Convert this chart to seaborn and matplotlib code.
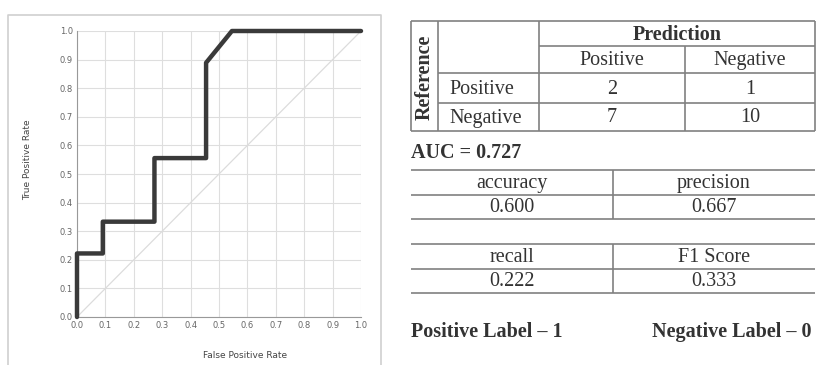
import matplotlib
matplotlib.use("Agg")
import matplotlib.pyplot as plt
import seaborn as sns
import pandas as pd

# ROC curve points
fpr = [0.0, 0.0, 0.0909, 0.0909, 0.2727, 0.2727, 0.4545, 0.4545, 0.5455, 1.0]
tpr = [0.0, 0.2222, 0.2222, 0.3333, 0.3333, 0.5556, 0.5556, 0.8889, 1.0, 1.0]
auc = 0.727

# confusion matrix (rows = reference, cols = prediction)
classes = ["Positive", "Negative"]
conf = [[2, 1], [7, 10]]

metric_names = ["accuracy", "precision", "recall", "F1 Score"]
metric_vals = [0.600, 0.667, 0.222, 0.333]

sns.set_style("whitegrid")
W, H = 816, 365
fig = plt.figure(figsize=(W / 100, H / 100), dpi=100)

# overlay in pixel coords for the frame and tables
ov = fig.add_axes([0, 0, 1, 1])
ov.set_xlim(0, W)
ov.set_ylim(H, 0)
ov.axis("off")

# left panel frame
ov.plot([8, 8, 381, 381], [368, 15, 15, 368], color="#d0d0d0", lw=1.2)

# ROC axes
ax = fig.add_axes([77 / W, 1 - 317 / H, (361 - 77) / W, (317 - 31) / H])
df = pd.DataFrame({"fpr": fpr, "tpr": tpr})
ax.plot([0, 1], [0, 1], color="#dcdcdc", lw=0.9)
sns.lineplot(data=df, x="fpr", y="tpr", sort=False, estimator=None,
             color="#3a3a3a", lw=3.2, ax=ax, clip_on=False, zorder=5)
ax.set_xlim(0, 1)
ax.set_ylim(0, 1)
ticks = [i / 10 for i in range(11)]
ax.set_xticks(ticks)
ax.set_yticks(ticks)
ax.set_xticklabels([f"{t:.1f}" for t in ticks])
ax.set_yticklabels([f"{t:.1f}" for t in ticks])
ax.tick_params(labelsize=6, colors="#666666", length=0, pad=3)
ax.grid(color="#dedede", lw=0.8)
for s in ax.spines.values():
    s.set_visible(False)
ax.spines["left"].set_visible(True)
ax.spines["bottom"].set_visible(True)
ax.spines["left"].set_color("#999999")
ax.spines["bottom"].set_color("#999999")
ax.set_xlabel("")
ax.set_ylabel("")
fig.text(245 / W, 1 - 356 / H, "False Positive Rate", ha="center", va="center",
         fontsize=6.5, color="#444444")
fig.text(28 / W, 1 - 160 / H, "True Positive Rate", ha="center", va="center",
         rotation=90, fontsize=6.5, color="#444444")

# ---- confusion matrix table ----
serif = "Liberation Serif"
lc = "#808080"
tc = "#333333"
fs = 14.5
x0, xr, xl, xp, xr_end = 411, 438, 539, 685, 815
y0, y1, y2, y3, y4 = 21, 46, 73, 103, 131

def hline(x_a, x_b, y):
    ov.plot([x_a, x_b], [y, y], color=lc, lw=1.2, solid_capstyle="butt")

def vline(x, y_a, y_b):
    ov.plot([x, x], [y_a, y_b], color=lc, lw=1.2, solid_capstyle="butt")

hline(x0, xr_end, y0)
hline(xl, xr_end, y1)
hline(xr, xr_end, y2)
hline(xr, xr_end, y3)
hline(x0, xr_end, y4)
vline(x0, y0, y4)
vline(xr, y0, y4)
vline(xl, y0, y4)
vline(xp, y1, y4)
vline(xr_end, y0, y4)

ov.text((x0 + xr) / 2, (y0 + y4) / 2 + 1, "Reference", rotation=90, ha="center",
        va="center", fontsize=fs, fontweight="bold", family=serif, color=tc)
ov.text((xl + xr_end) / 2, (y0 + y1) / 2 + 1, "Prediction", ha="center",
        va="center", fontsize=fs, fontweight="bold", family=serif, color=tc)
ov.text((xl + xp) / 2, (y1 + y2) / 2 + 1, classes[0], ha="center", va="center",
        fontsize=fs, family=serif, color=tc)
ov.text((xp + xr_end) / 2, (y1 + y2) / 2 + 1, classes[1], ha="center", va="center",
        fontsize=fs, family=serif, color=tc)
rows = [(y2, y3), (y3, y4)]
for i, (ya, yb) in enumerate(rows):
    yc = (ya + yb) / 2 + 1
    ov.text(449, yc, classes[i], ha="left", va="center", fontsize=fs,
            family=serif, color=tc)
    ov.text((xl + xp) / 2, yc, str(conf[i][0]), ha="center", va="center",
            fontsize=fs, family=serif, color=tc)
    ov.text((xp + xr_end) / 2, yc, str(conf[i][1]), ha="center", va="center",
            fontsize=fs, family=serif, color=tc)

ov.text(411, 153, f"AUC = {auc:.3f}", ha="left", va="center", fontsize=fs,
        fontweight="bold", family=serif, color=tc)

# metric tables
xm = 613
for k, (ta, tb) in enumerate([(170, 219), (244, 293)]):
    tm = (ta + tb) / 2
    hline(x0, xr_end, ta)
    hline(x0, xr_end, tm)
    hline(x0, xr_end, tb)
    vline(xm, ta, tb)
    for j, (xa, xb) in enumerate([(x0, xm), (xm, xr_end)]):
        idx = 2 * k + j
        ov.text((xa + xb) / 2, (ta + tm) / 2 + 1, metric_names[idx], ha="center",
                va="center", fontsize=fs, family=serif, color=tc)
        ov.text((xa + xb) / 2, (tm + tb) / 2 + 1, f"{metric_vals[idx]:.3f}",
                ha="center", va="center", fontsize=fs, family=serif, color=tc)

ov.text(411, 332, "Positive Label \u2013 1", ha="left", va="center", fontsize=fs,
        fontweight="bold", family=serif, color=tc)
ov.text(652, 332, "Negative Label \u2013 0", ha="left", va="center", fontsize=fs,
        fontweight="bold", family=serif, color=tc)

fig.savefig("out.png", dpi=100)
